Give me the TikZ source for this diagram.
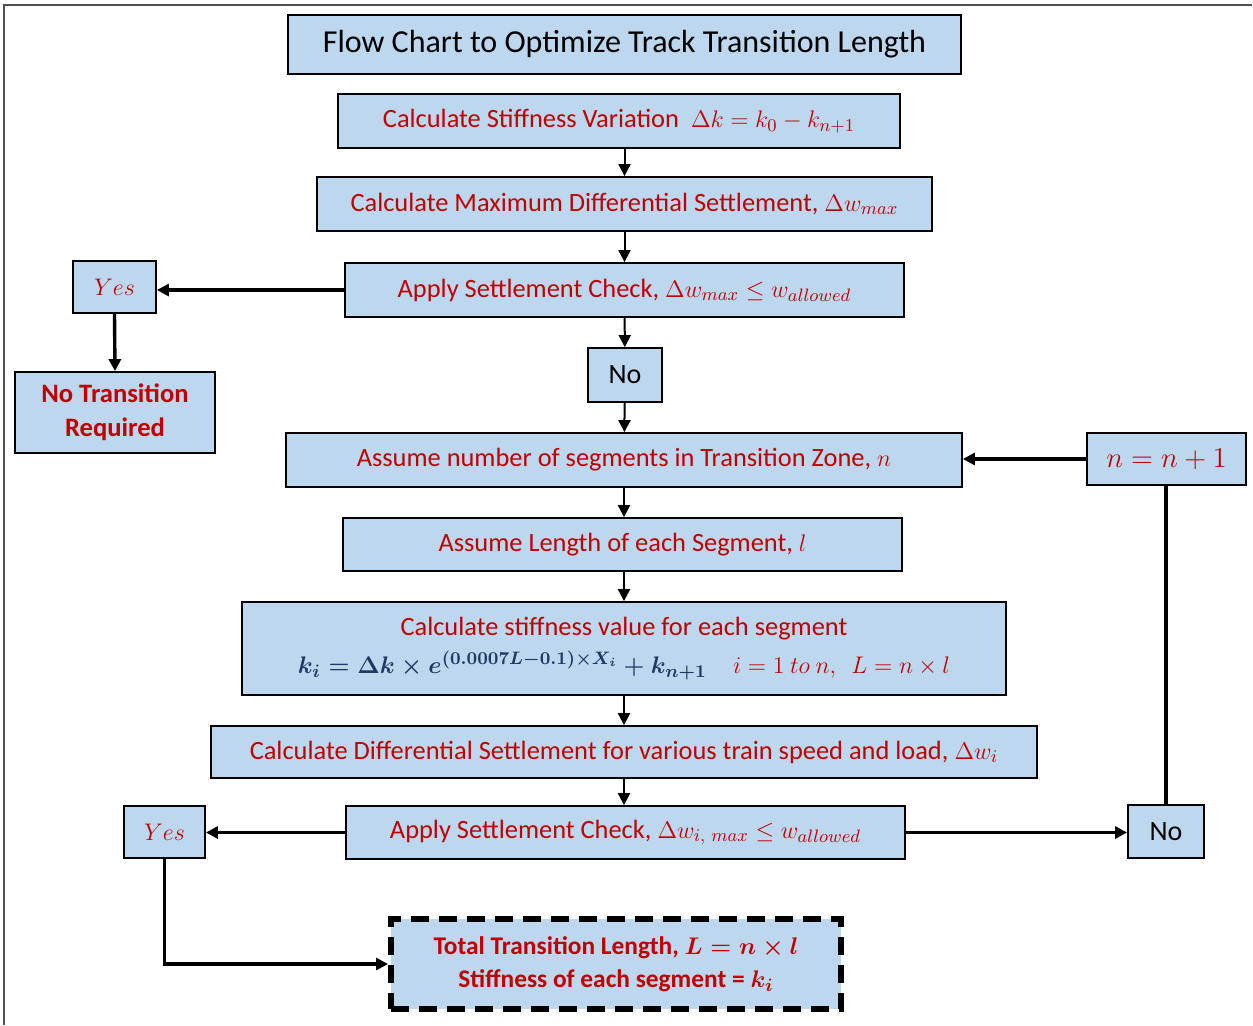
\documentclass[tikz,border=0pt]{standalone}
\usepackage{amsmath}
\usepackage[no-math]{fontspec}
\setmainfont{Carlito}
\usepackage{xcolor}
\usetikzlibrary{arrows.meta,positioning}
\definecolor{chartBlue}{HTML}{BDD7EE}
\definecolor{chartRed}{HTML}{C00000}
\definecolor{chartNavy}{HTML}{1F3864}
\definecolor{chartFrame}{HTML}{505050}

\begin{document}
\begin{tikzpicture}[x=0.5pt,y=-0.5pt,>={Triangle[length=6pt,width=6pt]},
  box/.style={draw=black,fill=chartBlue,line width=0.9pt,inner sep=0pt,align=center,
    text=chartRed,font=\fontsize{13.2}{16}\selectfont,minimum width=#1},
  box/.default=10pt,
  flow/.style={->,line width=1pt,draw=black},
  side/.style={->,line width=1.7pt,draw=black}
]
  \useasboundingbox (0,0) rectangle (1253,1025);
  \draw[draw=chartFrame,line width=1pt] (4,1025) -- (4,5) -- (1252,5);

  % main column
  \node[box=336.5pt,minimum height=29.5pt,text=black,font=\fontsize{16}{19}\selectfont] (title) at (624.5,44.5)
    {Flow Chart to Optimize Track Transition Length};
  \node[box=281pt,minimum height=27pt] (stiffvar) at (619,121)
    {Calculate Stiffness Variation~ $\Delta k = k_0 - k_{n+1}$};
  \node[box=307.5pt,minimum height=27pt] (maxsettle) at (624.5,204)
    {Calculate Maximum Differential Settlement, $\Delta w_{max}$};
  \node[box=279.5pt,minimum height=27pt] (check) at (624.5,290)
    {Apply Settlement Check, $\Delta w_{max} \le w_{allowed}$};
  \node[box=37pt,minimum height=27pt,text=black,font=\fontsize{14}{16}\selectfont] (nofirst) at (625,375) {No};
  \node[box=338pt,minimum height=27pt] (segnum) at (624,460)
    {Assume number of segments in Transition Zone, $n$};
  \node[box=279.5pt,minimum height=26.5pt] (seglen) at (622.5,544.5)
    {Assume Length of each Segment, $l$};
  \node[box=382pt,minimum height=46.5pt,font=\fontsize{13.2}{19}\selectfont] (stiffval) at (624,648.5)
    {Calculate stiffness value for each segment\\
     {\fontsize{12.5}{15}\selectfont\color{chartNavy}$\boldsymbol{k_i = \Delta k \times e^{(0.0007L-0.1)\times X_i} + k_{n+1}}$}\quad
     {\fontsize{12.5}{15}\selectfont$i = 1\ to\ n,\ \ L = n \times l$}};
  \node[box=413pt,minimum height=26pt] (diffsettle) at (624,752)
    {Calculate Differential Settlement for various train speed and load, $\Delta w_i$};
  \node[box=279.5pt,minimum height=26.5pt] (checkagain) at (625.5,832.5)
    {Apply Settlement Check, $\Delta w_{i,\ max} \le w_{allowed}$};

  % left branch
  \node[box=41.5pt,minimum height=26pt,font=\fontsize{12.5}{15}\selectfont] (yesfirst) at (114.5,287) {$Yes$};
  \node[box=100pt,minimum height=40.5pt,font=\fontsize{13.3}{17}\selectfont\bfseries] (notrans) at (115,412.5)
    {No Transition\\Required};
  \node[box=40.5pt,minimum height=26pt,font=\fontsize{12.5}{15}\selectfont] (yesagain) at (164.5,832) {$Yes$};
  \node[box=225pt,minimum height=45pt,draw=black,line width=3pt,dash pattern=on 9pt off 5pt,
    font=\fontsize{12.7}{16.5}\selectfont\bfseries\boldmath] (result) at (616,964)
    {Total Transition Length, $L = n \times l$\\Stiffness of each segment = $k_i$};

  % right loop
  \node[box=79.5pt,minimum height=26pt,font=\fontsize{13.5}{16}\selectfont] (increment) at (1166.5,459) {$n = n + 1$};
  \node[box=38pt,minimum height=26.5pt,text=black,font=\fontsize{14}{16}\selectfont] (noagain) at (1166,831.5) {No};

  % arrows down the column
  \draw[flow] (maxsettle.north |- stiffvar.south) -- (maxsettle.north);
  \draw[flow] (maxsettle) -- (check);
  \draw[flow] (check) -- (nofirst);
  \draw[flow] (nofirst) -- (segnum);
  \draw[flow] (segnum.south) -- (segnum.south |- seglen.north);
  \draw[flow] (stiffval.north |- seglen.south) -- (stiffval.north);
  \draw[flow] (stiffval) -- (diffsettle);
  \draw[flow] (diffsettle.south) -- (diffsettle.south |- checkagain.north);

  % branches
  \draw[side] (check.west) -- (check.west -| yesfirst.east);
  \draw[side] (yesfirst.south) -- (notrans.north);
  \draw[side] (checkagain.west) -- (checkagain.west -| yesagain.east);
  \draw[side] (yesagain.south) |- (result.west);
  \draw[side] (checkagain.east) -- (checkagain.east -| noagain.west);
  \draw[side,-] (noagain.north) -- (noagain.north |- increment.south);
  \draw[side] (increment.west) -- (increment.west -| segnum.east);
\end{tikzpicture}
\end{document}
